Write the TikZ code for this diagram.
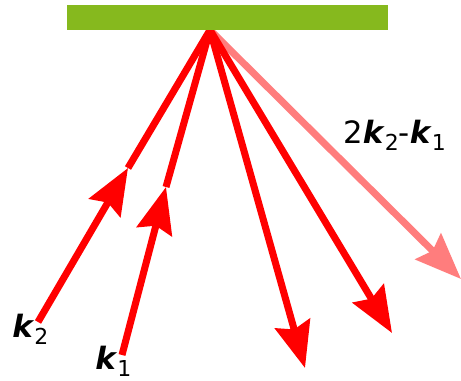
\documentclass[tikz,border=0pt]{standalone}
\usepackage{fontspec}
\setmainfont{DejaVu Sans}
\usetikzlibrary{arrows.meta}

\definecolor{mirrorgreen}{RGB}{134,185,30}
\definecolor{beampink}{RGB}{255,125,125}
\newcommand{\wvec}[1]{\textbf{\textit{k}}\raisebox{-0.4ex}{\fontsize{12.5}{12.5}\selectfont #1}}

\begin{document}
\begin{tikzpicture}[x=0.02cm, y=-0.02cm,
    mirror/.style={rectangle, fill=mirrorgreen, minimum width=6.42cm, minimum height=0.5cm, inner sep=0pt},
    ray/.style={red, line width=4pt},
    beam/.style={ray, -{Stealth[length=0.92cm, width=0.72cm, inset=0.12cm]}},
    wavelabel/.style={font=\fontsize{17.5}{20}\selectfont, inner sep=0pt, anchor=base west}]

    \useasboundingbox (0,0) rectangle (461,381);

    % Punkte
    \coordinate (hit) at (210,30);
    \coordinate (k2start) at (38,322);
    \coordinate (k2tip) at (128,168);
    \coordinate (k1start) at (122,355);
    \coordinate (k1tip) at (166,187);
    \coordinate (out1) at (305,368);
    \coordinate (out2) at (392,333);
    \coordinate (out3) at (461,279);

    % Einfallende Strahlen
    \draw[beam] (k2start) -- (k2tip);
    \draw[ray] (k2tip) -- (hit);
    \draw[beam] (k1start) -- (k1tip);
    \draw[ray] (k1tip) -- (hit);

    % Reflektierte Strahlen
    \draw[beam, beampink] (hit) -- (out3);
    \draw[beam] (hit) -- (out1);
    \draw[beam] (hit) -- (out2);

    % Spiegel
    \node [mirror] (mirror) at (227.5,17.5) {};

    % Beschriftung
    \node [wavelabel] (k2lab) at (12,338) {\wvec{2}};
    \node [wavelabel] (k1lab) at (95,370) {\wvec{1}};
    \node [wavelabel] (mixlab) at (343,144) {2\wvec{2}-\wvec{1}};

\end{tikzpicture}
\end{document}
